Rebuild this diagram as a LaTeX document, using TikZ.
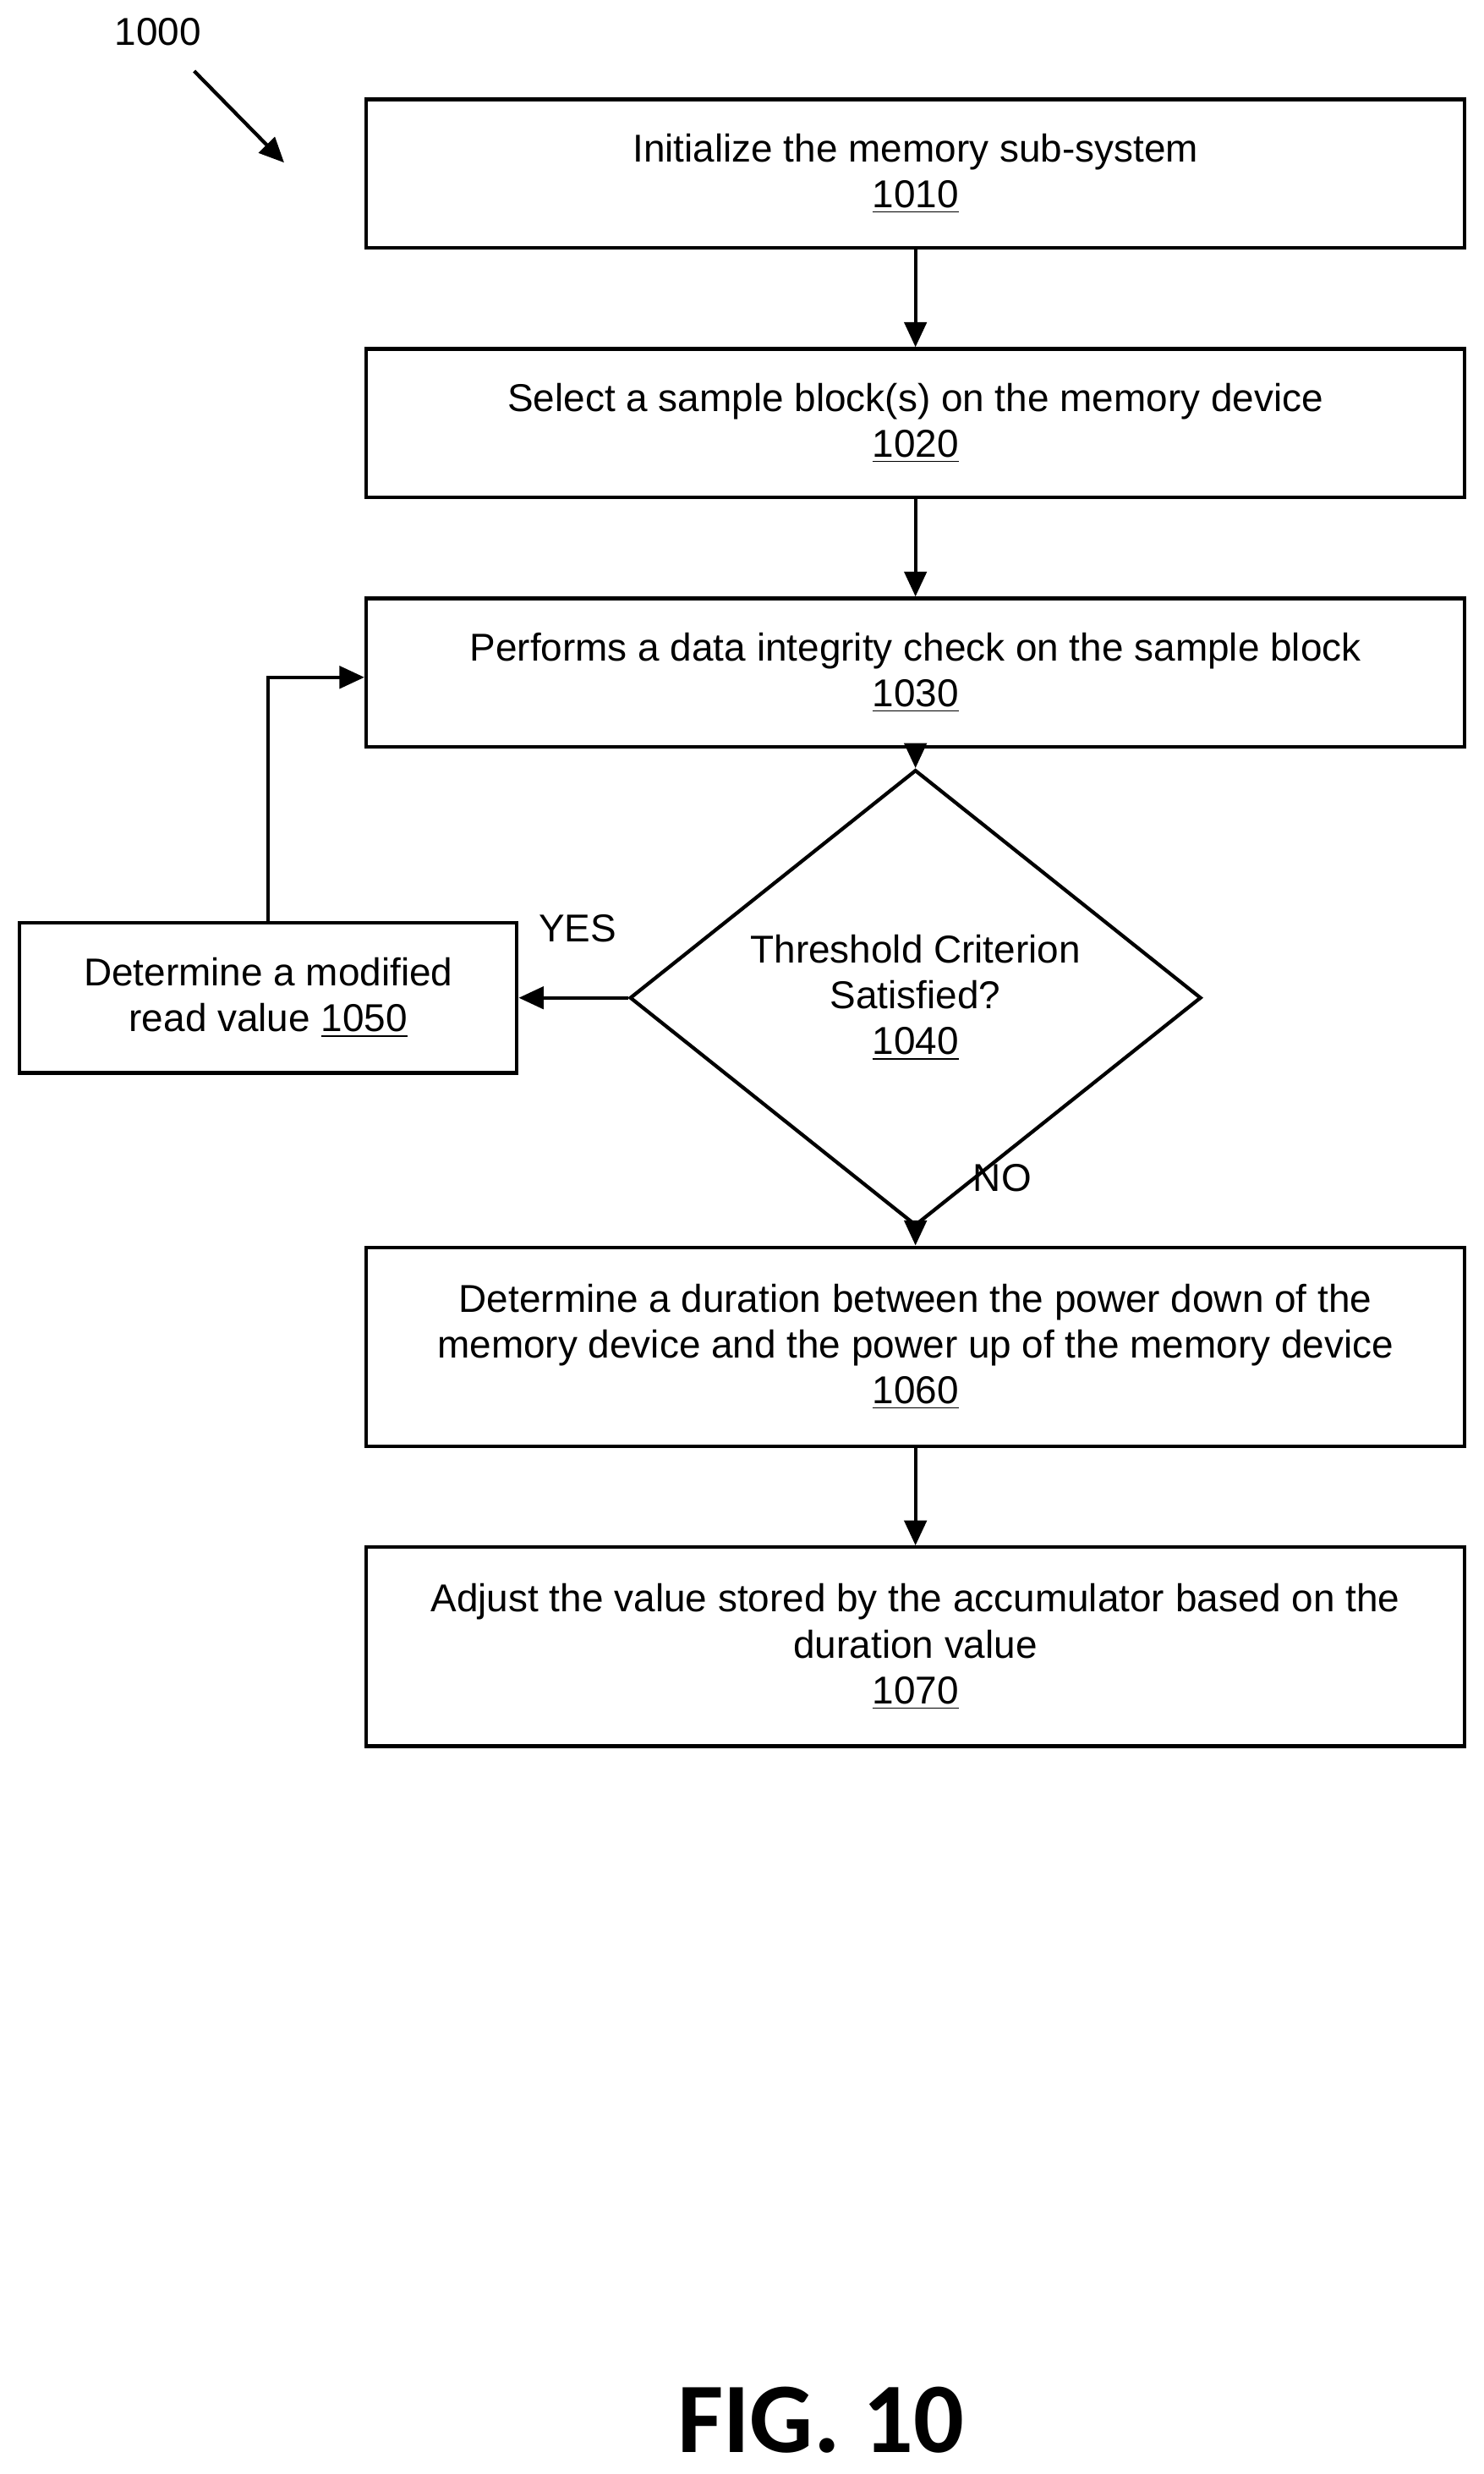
\documentclass[tikz,border=0pt]{standalone}
\usepackage{fontspec}
\setmainfont{Liberation Sans}
\newfontfamily\figfont{Carlito}
\usetikzlibrary{shapes.geometric,arrows.meta}
\begin{document}
\begin{tikzpicture}[x=0.02cm,y=-0.02cm,
  box/.style={draw,line width=1.3pt,rectangle,inner sep=0pt,font=\fontsize{14}{16.5}\selectfont,align=center},
  arr/.style={line width=1.3pt,-{Triangle[length=9pt,width=8pt]}},
  lbl/.style={font=\fontsize{14}{16.5}\selectfont}]
\useasboundingbox (0,0) rectangle (940,1567);
\node[box,minimum width=696*0.02cm,minimum height=94*0.02cm] (b1) at (580,110) {Initialize the memory sub-system\\\underline{1010}};
\node[box,minimum width=696*0.02cm,minimum height=94*0.02cm] (b2) at (580,268) {Select a sample block(s) on the memory device\\\underline{1020}};
\node[box,minimum width=696*0.02cm,minimum height=94*0.02cm] (b3) at (580,426) {Performs a data integrity check on the sample block\\\underline{1030}};
\node[draw,line width=1.3pt,diamond,minimum width=362*0.02cm,minimum height=188*0.02cm,inner sep=0pt,font=\fontsize{14}{16.5}\selectfont,align=center] (d) at (580,632) {Threshold Criterion\\Satisfied?\\\underline{1040}};
\node[box,minimum width=315*0.02cm,minimum height=95*0.02cm] (b5) at (170,632) {Determine a modified\\read value \underline{1050}};
\node[box,minimum width=696*0.02cm,minimum height=126*0.02cm] (b6) at (580,853) {Determine a duration between the power down of the\\memory device and the power up of the memory device\\\underline{1060}};
\node[box,minimum width=696*0.02cm,minimum height=126*0.02cm] (b7) at (580,1043) {Adjust the value stored by the accumulator based on the\\duration value\\\underline{1070}};
\draw[arr] (b1) -- (b2);
\draw[arr] (b2) -- (b3);
\draw[arr] (b3) -- (d.north);
\draw[arr] (d.west) -- (b5.east);
\draw[arr] (d.south) -- (b6.north);
\draw[arr] (b6) -- (b7);
\coordinate (c1) at (170,429);
\draw[arr] (b5.north) -- (c1) -- (c1 -| b3.west);
\node[lbl] (yes) at (366,588) {YES};
\node[lbl] (no) at (635,746) {NO};
\node[lbl] (n1000) at (100,20) {1000};
\coordinate (a1) at (123,45);
\coordinate (a2) at (180,103);
\draw[arr] (a1) -- (a2);
\node[font=\figfont\bfseries\fontsize{36}{40}\selectfont] (fig) at (520,1533) {FIG. 10};
\end{tikzpicture}
\end{document}
